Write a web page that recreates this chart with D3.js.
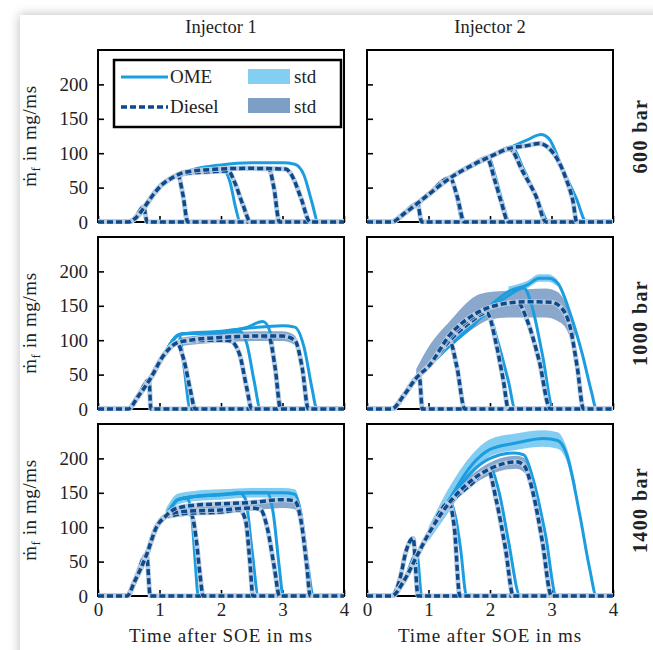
<!DOCTYPE html>
<html>
<head>
<meta charset="utf-8">
<script src="https://cdn.jsdelivr.net/npm/d3@7"></script>
<style>
body { margin: 0; background: #fff; }
svg { display: block; font-family: "Liberation Serif", serif; }
</style>
</head>
<body>
<svg id="chart" width="653" height="650"></svg>
<script>
const injectors = ['Injector 1', 'Injector 2'];
const pressures = ['600 bar', '1000 bar', '1400 bar'];
const xTicks = [0, 1, 2, 3, 4];
const yTicks = [0, 50, 100, 150, 200];

/* rising part shared by the curves of one panel, then one tail per injection duration: [t in ms, mg/ms] */
const rise_i1_600 = [[0,0],[0.5,0],[0.6,5],[0.75,21],[0.9,40],[1.05,55],[1.2,64]];
const ome_i1_600 = [
  [[0.74,22],[0.8,0]],
  [[1.3,67],[1.38,38],[1.44,0]],
  [[1.5,72],[1.8,74],[2.05,75],[2.15,57],[2.24,20],[2.31,0]],
  [[1.5,75],[2.0,83],[2.5,86],[3.0,86],[3.2,84],[3.35,68],[3.48,28],[3.58,0]]
];
const diesel_i1_600 = [
  [[0.74,22],[0.8,0]],
  [[1.3,68],[1.38,40],[1.46,0]],
  [[1.4,70],[1.8,73],[2.12,74],[2.22,58],[2.36,24],[2.48,0]],
  [[1.4,72],[1.8,76],[2.4,78],[2.78,77],[2.86,50],[2.95,0]],
  [[1.4,72],[1.8,76],[2.4,78],[3.05,77],[3.15,68],[3.3,35],[3.45,0]]
];

const rise_i2_600 = [[0,0],[0.4,0],[0.6,12],[0.82,27],[1.0,40],[1.35,64],[1.7,82],[2.0,95]];
const ome_i2_600 = [
  [[0.82,27],[0.89,0]],
  [[1.35,64],[1.45,38],[1.56,0]],
  [[1.97,94],[2.1,62],[2.2,30],[2.32,0]],
  [[2.35,109],[2.55,76],[2.75,38],[2.96,0]],
  [[2.35,109],[2.6,119],[2.83,127],[2.95,122],[3.19,75],[3.4,35],[3.57,0]]
];
const diesel_i2_600 = [
  [[0.82,27],[0.89,0]],
  [[1.35,64],[1.47,36],[1.58,0]],
  [[1.95,93],[2.08,60],[2.18,30],[2.3,0]],
  [[2.32,106],[2.54,72],[2.75,37],[2.91,0]],
  [[2.32,107],[2.6,111],[2.8,114],[2.95,108],[3.24,62],[3.35,30],[3.41,0]]
];

const rise_i1_1000 = [[0,0],[0.49,0],[0.65,18],[0.85,44],[1.06,77]];
const ome_i1_1000 = [
  [[0.83,42],[0.86,0]],
  [[1.28,106],[1.32,108],[1.4,60],[1.5,0]],
  [[1.28,106],[1.35,109],[2.0,111],[2.3,113],[2.42,95],[2.54,40],[2.64,0]],
  [[1.28,106],[1.35,109],[2.0,112],[2.4,118],[2.68,127],[2.8,112],[2.9,50],[2.99,0]],
  [[1.28,106],[1.35,109],[2.0,113],[2.5,118],[3.0,121],[3.2,119],[3.35,90],[3.48,30],[3.56,0]]
];
const diesel_i1_1000 = [
  [[0.83,42],[0.86,0]],
  [[1.28,96],[1.4,70],[1.5,28],[1.58,0]],
  [[1.28,96],[1.5,99],[2.0,100],[2.15,99],[2.3,80],[2.42,30],[2.5,0]],
  [[1.28,96],[1.5,100],[2.0,104],[2.5,106],[2.78,104],[2.88,60],[2.97,0]],
  [[1.28,96],[1.5,100],[2.0,104],[2.6,106],[3.0,106],[3.2,100],[3.32,60],[3.42,0]]
];
const diesel_band_i1_1000 = [[1.3,91,103],[1.6,94,107],[2.0,97,111],[2.6,99,113],[3.0,99,113],[3.2,93,107],[3.28,70,84]];

const rise_i2_1000 = [[0,0],[0.4,0],[0.6,20],[0.81,46],[1.0,62]];
const ome_i2_1000 = [
  [[0.85,48],[0.9,0]],
  [[1.35,92],[1.45,62],[1.6,0]],
  [[1.35,92],[1.65,115],[1.97,138],[2.12,100],[2.3,40],[2.41,0]],
  [[1.35,94],[1.7,122],[2.0,145],[2.3,165],[2.55,176],[2.68,150],[2.85,80],[3.03,0]],
  [[1.35,94],[1.7,125],[2.0,150],[2.33,172],[2.6,180],[2.8,190],[2.95,190],[3.1,183],[3.3,140],[3.5,80],[3.65,25],[3.73,0]]
];
const diesel_i2_1000 = [
  [[0.85,48],[0.9,0]],
  [[1.35,97],[1.46,62],[1.59,0]],
  [[1.35,100],[1.65,124],[1.95,140],[2.1,95],[2.22,40],[2.3,0]],
  [[1.35,105],[1.7,132],[2.0,147],[2.45,155],[2.6,130],[2.8,70],[2.98,0]],
  [[1.35,108],[1.7,135],[2.0,148],[2.3,154],[2.6,156],[3.0,155],[3.15,148],[3.3,120],[3.42,60],[3.52,0]]
];
const ome_band_i2_1000 = [[2.3,165,178],[2.6,175,186],[2.8,185,196],[2.95,185,196],[3.1,178,188]];
const diesel_band_i2_1000 = [[0.8,42,58],[1.0,60,90],[1.35,90,128],[1.78,120,165],[2.0,130,170],[2.3,133,172],[2.9,133,175],[3.1,128,170],[3.25,115,150],[3.38,80,115]];

const rise_i1_1400 = [[0,0],[0.47,0],[0.6,22],[0.79,60],[0.95,100],[1.1,116]];
const ome_i1_1400 = [
  [[0.79,60],[0.85,0]],
  [[1.2,130],[1.3,140],[1.45,142],[1.52,120],[1.58,50],[1.63,0]],
  [[1.2,130],[1.3,140],[1.6,145],[2.0,147],[2.3,150],[2.4,140],[2.5,70],[2.61,0]],
  [[1.2,130],[1.3,140],[1.6,145],[2.0,147],[2.5,150],[2.75,150],[2.85,120],[2.95,40],[3.01,0]],
  [[1.2,130],[1.3,140],[1.6,145],[2.0,148],[2.5,150],[3.0,150],[3.2,148],[3.3,120],[3.42,40],[3.5,0]]
];
const diesel_i1_1400 = [
  [[0.79,60],[0.85,0]],
  [[1.2,117],[1.4,121],[1.52,118],[1.6,80],[1.66,30],[1.71,0]],
  [[1.2,117],[1.4,120],[2.0,122],[2.3,125],[2.4,110],[2.47,50],[2.52,0]],
  [[1.2,120],[1.4,123],[2.0,125],[2.5,128],[2.65,125],[2.75,100],[2.87,40],[2.95,0]],
  [[1.2,124],[1.3,128],[1.6,132],[2.0,134],[2.5,136],[3.0,140],[3.2,138],[3.3,110],[3.4,40],[3.45,0]]
];
const ome_band_i1_1400 = [[1.1,112,126],[1.3,133,149],[1.6,138,153],[2.0,140,155],[2.5,143,157],[3.0,143,157],[3.2,141,155],[3.3,112,128]];
const diesel_band_i1_1400 = [[1.2,114,128],[1.6,118,134],[2.0,122,136],[2.5,124,138],[3.0,128,142],[3.2,126,140],[3.3,100,118]];

const rise_i2_1400 = [[0,0],[0.4,0],[0.6,22],[0.81,58],[1.0,90]];
const ome_i2_1400 = [
  [[0.81,62],[0.89,0]],
  [[1.35,137],[1.45,110],[1.52,70],[1.62,0]],
  [[1.35,137],[1.7,165],[2.0,186],[2.15,150],[2.3,80],[2.49,0]],
  [[1.35,140],[1.7,180],[2.0,200],[2.4,208],[2.55,205],[2.7,170],[2.9,90],[3.08,0]],
  [[1.35,142],[1.7,190],[2.0,213],[2.4,222],[2.87,229],[3.1,226],[3.25,205],[3.46,118],[3.62,40],[3.73,0]]
];
const diesel_i2_1400 = [
  [[0.55,30],[0.62,60],[0.75,84],[0.83,0]],
  [[1.33,135],[1.42,100],[1.51,0]],
  [[1.35,135],[1.7,163],[1.97,183],[2.1,140],[2.25,70],[2.38,0]],
  [[1.35,137],[1.7,168],[2.0,185],[2.43,195],[2.55,190],[2.7,150],[2.85,80],[3.0,0]]
];
const ome_band_i2_1400 = [[1.0,80,100],[1.35,125,160],[1.7,175,205],[2.0,203,228],[2.4,212,236],[2.87,217,241],[3.1,214,238],[3.25,195,215],[3.4,140,160]];
const diesel_band_i2_1400 = [[1.35,130,144],[1.7,160,176],[2.0,176,194],[2.43,185,204],[2.6,175,198],[2.7,145,160]];

const panels = [
  {row: 0, col: 0, rise: rise_i1_600, ome: ome_i1_600, diesel: diesel_i1_600, omeBand: [], dieselBand: []},
  {row: 0, col: 1, rise: rise_i2_600, ome: ome_i2_600, diesel: diesel_i2_600, omeBand: [], dieselBand: []},
  {row: 1, col: 0, rise: rise_i1_1000, ome: ome_i1_1000, diesel: diesel_i1_1000, omeBand: [], dieselBand: diesel_band_i1_1000},
  {row: 1, col: 1, rise: rise_i2_1000, ome: ome_i2_1000, diesel: diesel_i2_1000, omeBand: ome_band_i2_1000, dieselBand: diesel_band_i2_1000},
  {row: 2, col: 0, rise: rise_i1_1400, ome: ome_i1_1400, diesel: diesel_i1_1400, omeBand: ome_band_i1_1400, dieselBand: diesel_band_i1_1400},
  {row: 2, col: 1, rise: rise_i2_1400, ome: ome_i2_1400, diesel: diesel_i2_1400, omeBand: ome_band_i2_1400, dieselBand: diesel_band_i2_1400}
];

const OME_COLOR = '#1b9de0';
const DIESEL_COLOR = '#0c4a8c';
const OME_FILL = '#6cc4ef';
const DIESEL_FILL = '#7c9fc6';

const colX = [98, 367];
const rowY = [50, 237, 424];
const pw = 246, ph = 172;

const svg = d3.select('#chart');

// card with shadow
svg.append('rect')
  .attr('x', 20).attr('y', 15).attr('width', 660).attr('height', 660)
  .attr('fill', '#fff')
  .style('filter', 'drop-shadow(0px 0px 6px rgba(0,0,0,0.28))');

const x = d3.scaleLinear().domain([0, 4]).range([0, pw]);
const y = d3.scaleLinear().domain([0, 250]).range([ph, 0]);

const line = d3.line().x(d => x(d[0])).y(d => y(d[1])).curve(d3.curveMonotoneX);
const band = d3.area().x(d => x(d[0])).y0(d => y(d[1])).y1(d => y(d[2])).curve(d3.curveMonotoneX);

const build_curve = (rise, tail) => {
  return rise.filter(p => p[0] < tail[0][0]).concat(tail, [[4, 0]]);
};

// column titles
injectors.forEach((name, i) => {
  svg.append('text')
    .attr('x', colX[i] + pw / 2).attr('y', 33)
    .attr('text-anchor', 'middle')
    .attr('font-size', 18.5)
    .attr('fill', '#222')
    .text(name);
});

// row labels and y axis titles
pressures.forEach((p, i) => {
  svg.append('text')
    .attr('transform', 'translate(647,' + (rowY[i] + ph / 2) + ') rotate(-90)')
    .attr('text-anchor', 'middle')
    .attr('font-size', 20)
    .attr('font-weight', 'bold')
    .attr('letter-spacing', 1.4)
    .attr('fill', '#222')
    .text(p);
  let lab = svg.append('text')
    .attr('transform', 'translate(36,' + (rowY[i] + ph / 2) + ') rotate(-90)')
    .attr('text-anchor', 'middle')
    .attr('font-size', 19)
    .attr('letter-spacing', 0.6)
    .attr('fill', '#222');
  lab.append('tspan').text('\u1E41');
  lab.append('tspan').attr('font-size', 12).attr('dy', 4).text('f');
  lab.append('tspan').attr('dy', -4).text(' in mg/ms');
});

// x axis titles
injectors.forEach((name, i) => {
  svg.append('text')
    .attr('x', colX[i] + pw / 2).attr('y', 642)
    .attr('text-anchor', 'middle')
    .attr('font-size', 19)
    .attr('letter-spacing', 0.9)
    .attr('fill', '#222')
    .text('Time after SOE in ms');
});

svg.append('defs').append('clipPath').attr('id', 'clip')
  .append('rect').attr('x', 0).attr('y', -2).attr('width', pw).attr('height', ph + 4);

for (let p of panels) {
  let g = svg.append('g').attr('transform', 'translate(' + colX[p.col] + ',' + rowY[p.row] + ')');

  // axes with inward ticks
  let ax = g.append('g').attr('transform', 'translate(0,' + ph + ')')
    .call(d3.axisBottom(x).tickValues(xTicks).tickSize(-6).tickPadding(7)
      .tickFormat(p.row === 2 ? d3.format('d') : () => ''));
  let ay = g.append('g')
    .call(d3.axisLeft(y).tickValues(yTicks).tickSize(-6).tickPadding(10)
      .tickFormat(p.col === 0 ? d3.format('d') : () => ''));
  for (let a of [ax, ay]) {
    a.select('.domain').remove();
    a.selectAll('line').attr('stroke', '#000').attr('stroke-width', 1.6);
    a.selectAll('text').attr('font-size', 19).attr('fill', '#222')
      .attr('font-family', '"Liberation Serif", serif');
  }

  g.append('rect').attr('width', pw).attr('height', ph)
    .attr('fill', 'none').attr('stroke', '#000').attr('stroke-width', 2);

  let plot = g.append('g').attr('clip-path', 'url(#clip)');

  if (p.omeBand.length) {
    plot.append('path').attr('d', band(p.omeBand)).attr('fill', OME_FILL).attr('opacity', 0.85);
  }
  if (p.dieselBand.length) {
    plot.append('path').attr('d', band(p.dieselBand)).attr('fill', DIESEL_FILL).attr('opacity', 0.9);
  }

  for (let tail of p.ome) {
    plot.append('path').attr('d', line(build_curve(p.rise, tail)))
      .attr('fill', 'none').attr('stroke', OME_COLOR).attr('stroke-width', 3)
      .attr('stroke-linejoin', 'round');
  }
  for (let tail of p.diesel) {
    let d = line(build_curve(p.rise, tail));
    plot.append('path').attr('d', d)
      .attr('fill', 'none').attr('stroke', '#b8cbe0').attr('stroke-width', 5);
    plot.append('path').attr('d', d)
      .attr('fill', 'none').attr('stroke', DIESEL_COLOR).attr('stroke-width', 3.5)
      .attr('stroke-dasharray', '6,3');
  }
}

// legend in the first panel
let lg = svg.append('g').attr('transform', 'translate(114,60)');
lg.append('rect').attr('width', 227).attr('height', 67)
  .attr('fill', '#fff').attr('stroke', '#000').attr('stroke-width', 2.5);
lg.append('line').attr('x1', 7).attr('x2', 54).attr('y1', 17).attr('y2', 17)
  .attr('stroke', OME_COLOR).attr('stroke-width', 3);
lg.append('line').attr('x1', 7).attr('x2', 54).attr('y1', 47).attr('y2', 47)
  .attr('stroke', DIESEL_COLOR).attr('stroke-width', 3.5).attr('stroke-dasharray', '6,3');
lg.append('text').attr('x', 56).attr('y', 23).attr('font-size', 19).attr('fill', '#222').text('OME');
lg.append('text').attr('x', 56).attr('y', 53).attr('font-size', 19).attr('fill', '#222').text('Diesel');
lg.append('rect').attr('x', 134).attr('y', 9).attr('width', 42).attr('height', 15).attr('fill', '#83cff2');
lg.append('rect').attr('x', 134).attr('y', 38).attr('width', 42).attr('height', 15).attr('fill', DIESEL_FILL);
lg.append('text').attr('x', 180).attr('y', 23).attr('font-size', 19).attr('fill', '#222').text('std');
lg.append('text').attr('x', 180).attr('y', 53).attr('font-size', 19).attr('fill', '#222').text('std');
</script>
</body>
</html>
